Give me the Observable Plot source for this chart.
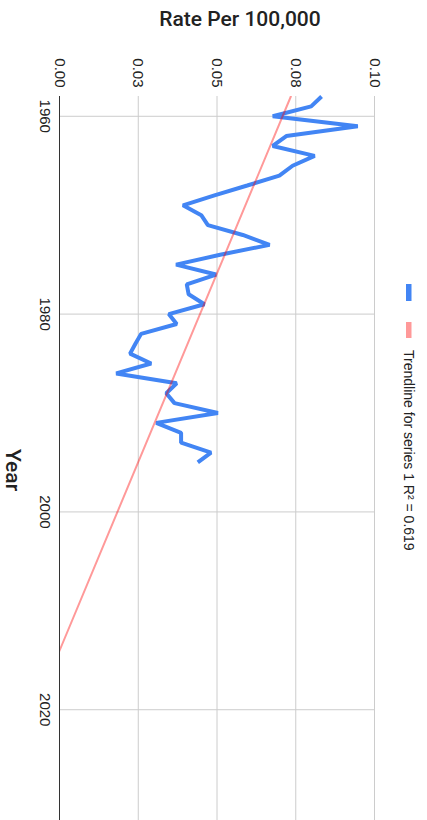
<!DOCTYPE html>
<html>
<head>
<meta charset="utf-8">
<script src="https://cdn.jsdelivr.net/npm/d3@7"></script>
<script src="https://cdn.jsdelivr.net/npm/@observablehq/plot@0.6"></script>
<style>
  html, body { margin: 0; padding: 0; background: #fff; }
  body { width: 427px; height: 820px; overflow: hidden; position: relative; }
  #chart { position: absolute; left: 0; top: 0; width: 820px; height: 427px;
           transform-origin: 0 0; transform: translate(427px, 0) rotate(90deg); }
</style>
</head>
<body>
<div id="chart"></div>
<script>
// ---- data ----
const years = [1958, 1959, 1960, 1961, 1962, 1963, 1964, 1965, 1966, 1967,
               1968, 1969, 1970, 1971, 1972, 1973, 1974, 1975, 1976, 1977,
               1978, 1979, 1980, 1981, 1982, 1983, 1984, 1985, 1986, 1987,
               1988, 1989, 1990, 1991, 1992, 1993, 1994, 1995];
const rates = [0.0832, 0.0799, 0.0677, 0.0947, 0.0720, 0.0677, 0.0810, 0.0740, 0.0698, 0.0596,
               0.0492, 0.0392, 0.0450, 0.0471, 0.0582, 0.0667, 0.0510, 0.0370, 0.0497, 0.0404,
               0.0410, 0.0460, 0.0347, 0.0372, 0.0259, 0.0241, 0.0224, 0.0291, 0.0180, 0.0372,
               0.0339, 0.0365, 0.0503, 0.0307, 0.0386, 0.0386, 0.0481, 0.0439];
const xTicks = [1960, 1980, 2000, 2020];
const yTicks = [0, 0.025, 0.05, 0.075, 0.1];
const yTickLabels = ["0.00", "0.03", "0.05", "0.08", "0.10"];
const xDomain = [1958, 2031.2];
const yDomain = [0, 0.1];
const titleY = "Rate Per 100,000";
const titleX = "Year";
const legendLabels = ["", "Trendline for series 1 R\u00B2 = 0.619"];
const colors = ["#4285F4", "#FF0000"];

const data = years.map((year, i) => ({year, rate: rates[i]}));

// least-squares trendline computed from the data
const mx = d3.mean(years), my = d3.mean(rates);
const slope = d3.sum(data, d => (d.year - mx) * (d.rate - my)) / d3.sum(data, d => (d.year - mx) ** 2);
const intercept = my - slope * mx;
const trend = xDomain.map(year => ({year, rate: intercept + slope * year}));

const W = 820, H = 427;
const svg = Plot.plot({
  width: W, height: H,
  marginLeft: 96, marginRight: 0, marginTop: 52, marginBottom: 60,
  style: {fontFamily: "'Liberation Sans', Arial, sans-serif", fontSize: "15px", color: "#222", background: "#fff"},
  x: {domain: xDomain, ticks: xTicks, tickFormat: d => String(d), tickSize: 0, tickPadding: 9, label: null},
  y: {domain: yDomain, ticks: yTicks, tickFormat: d => yTickLabels[yTicks.indexOf(d)], tickSize: 0, tickPadding: 9, label: null},
  marks: [
    Plot.ruleX(xTicks, {stroke: "#cccccc", strokeWidth: 1}),
    Plot.ruleY(yTicks.filter(d => d !== 0), {stroke: "#cccccc", strokeWidth: 1}),
    Plot.ruleY([0], {stroke: "#333333", strokeWidth: 1}),
    Plot.line(data, {x: "year", y: "rate", stroke: colors[0], strokeWidth: 4, strokeLinejoin: "miter", strokeLinecap: "butt"}),
    Plot.line(trend, {x: "year", y: "rate", stroke: colors[1], strokeOpacity: 0.4, strokeWidth: 2, clip: true})
  ]
});
document.getElementById("chart").appendChild(svg);

const s = d3.select(svg);
// axis titles
s.append("text")
  .attr("transform", "translate(19,187) rotate(-90)")
  .attr("text-anchor", "middle").attr("dy", "0.35em")
  .style("font-family", "Roboto, sans-serif").style("font-weight", 500)
  .style("font-size", "21px").attr("fill", "#222")
  .text(titleY);
s.append("text")
  .attr("x", 470).attr("y", 421)
  .attr("text-anchor", "middle")
  .style("font-family", "Roboto, sans-serif").style("font-weight", 500)
  .style("font-size", "21px").attr("fill", "#222")
  .text(titleX);

// legend
const leg = s.append("g");
leg.append("rect").attr("x", 284).attr("y", 15.5).attr("width", 17).attr("height", 5.5).attr("fill", colors[0]);
leg.append("rect").attr("x", 322).attr("y", 15.5).attr("width", 16).attr("height", 5.5).attr("fill", colors[1]).attr("fill-opacity", 0.4);
leg.append("text").attr("x", 350).attr("y", 18.5).attr("dy", "0.35em")
  .attr("text-anchor", "start")
  .style("font-family", "'Liberation Sans', Arial, sans-serif").style("font-size", "14px").attr("fill", "#222")
  .text(legendLabels[1]);
</script>
</body>
</html>
